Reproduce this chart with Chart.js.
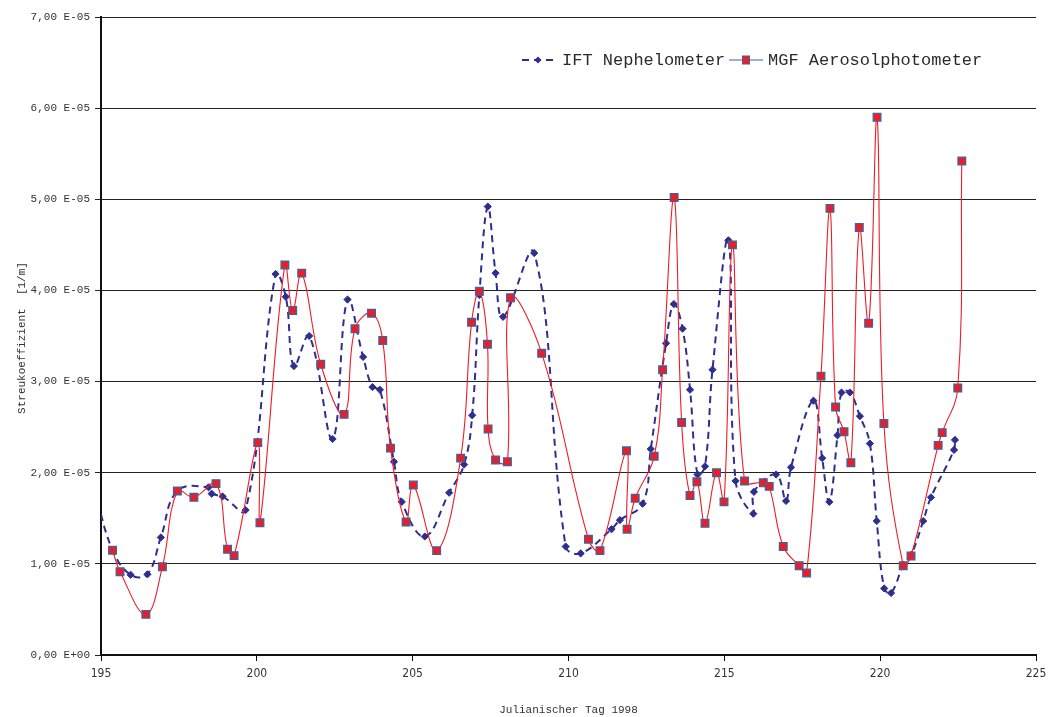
<!DOCTYPE html>
<html>
<head>
<meta charset="utf-8">
<script src="https://cdn.jsdelivr.net/npm/chart.js@4.4.1/dist/chart.umd.min.js"></script>
<style>
  html, body { margin: 0; padding: 0; background: #fff; }
  #wrap { width: 1050px; height: 717px; }
</style>
</head>
<body>
<div id="wrap"><canvas id="c" width="1050" height="717"></canvas></div>
<script>
// Julian day 1998 and scattering coefficient (in units of 1E-05 1/m)
const nephelometerDays = [194.8, 195.37, 195.95, 196.49, 196.92, 197.45, 198.45, 198.55, 198.9, 199.64,
  200.6, 200.93, 201.19, 201.68, 202.43, 202.91, 203.41, 203.71, 203.95, 204.4, 204.65,
  205.39, 206.17, 206.65, 206.91, 207.14, 207.41, 207.66, 207.9, 208.9, 209.91,
  210.39, 211.38, 211.65, 212.38, 212.64, 213.13, 213.38, 213.66, 213.9, 214.14,
  214.38, 214.62, 215.13, 215.36, 215.93, 215.95, 216.66, 216.98, 217.14, 217.86,
  218.14, 218.37, 218.63, 218.76, 219.03, 219.35, 219.67, 219.89, 220.13, 220.35,
  220.75, 221.0, 221.38, 221.63, 222.37, 222.4];
const nephelometerE5 = [1.8, 1.15, 0.88, 0.885, 1.29, 1.8, 1.84, 1.77, 1.74, 1.59,
  4.18, 3.93, 3.17, 3.5, 2.37, 3.9, 3.27, 2.94, 2.91, 2.12, 1.68,
  1.3, 1.78, 2.09, 2.63, 3.95, 4.92, 4.19, 3.71, 4.41, 1.19,
  1.115, 1.38, 1.48, 1.66, 2.26, 3.42, 3.85, 3.58, 2.91, 1.98,
  2.07, 3.13, 4.55, 1.91, 1.55, 1.79, 1.98, 1.69, 2.06, 2.79,
  2.16, 1.68, 2.41, 2.88, 2.88, 2.62, 2.32, 1.47, 0.73, 0.68,
  0.99, 1.1, 1.47, 1.73, 2.25, 2.36];

const photometerDays = [195.37, 195.61, 196.44, 196.97, 197.45, 197.98, 198.69, 199.06, 199.27,
  200.03, 200.1, 200.9, 201.15, 201.44, 202.05, 202.8, 203.15, 203.68, 204.04, 204.29,
  204.79, 205.02, 205.77, 206.54, 206.89, 207.14, 207.4, 207.42, 207.66, 208.04,
  208.14, 209.14, 210.64, 211.01, 211.86, 211.88, 212.14, 212.75, 213.02, 213.39,
  213.63, 213.9, 214.12, 214.38, 214.75, 214.99, 215.26, 215.65, 216.25, 216.44,
  216.89, 217.4, 217.64, 218.1, 218.39, 218.57, 218.84, 219.06, 219.33, 219.63,
  219.9, 220.12, 220.74, 220.99, 221.86, 221.99, 222.49, 222.62];
const photometerE5 = [1.15, 0.914, 0.446, 0.969, 1.8, 1.73, 1.88, 1.16, 1.09,
  2.33, 1.45, 4.28, 3.78, 4.19, 3.19, 2.64, 3.58, 3.75, 3.45, 2.27,
  1.46, 1.865, 1.145, 2.16, 3.65, 3.99, 3.41, 2.48, 2.14, 2.12,
  3.92, 3.31, 1.27, 1.145, 2.24, 1.38, 1.72, 2.18, 3.13, 5.02,
  2.55, 1.75, 1.9, 1.445, 2.0, 1.68, 4.5, 1.91, 1.89, 1.85,
  1.19, 0.98, 0.9, 3.06, 4.9, 2.72, 2.45, 2.11, 4.69, 3.64,
  5.9, 2.54, 0.98, 1.086, 2.3, 2.44, 2.93, 5.42];

const seriesNames = ['IFT Nephelometer', 'MGF Aerosolphotometer'];
const yTickLabels = ['0,00 E+00', '1,00 E-05', '2,00 E-05', '3,00 E-05', '4,00 E-05',
  '5,00 E-05', '6,00 E-05', '7,00 E-05'];
const xTitle = 'Julianischer Tag 1998';
const yTitle = 'Streukoeffizient  [1/m]';

const toPoints = (xs, ys) => xs.map((x, i) => ({ x: x, y: ys[i] }));

const BLUE = '#2e2e8f';
const RED = '#ee1c25';
const SQUARE_EDGE = '#44619c';
const MONO = '"Liberation Mono", "DejaVu Sans Mono", monospace';

// legend drawn inside the plot area, top right, plus the rotated y-axis title
const innerLegend = {
  id: 'innerLegend',
  afterDraw(chart) {
    const ctx = chart.ctx;
    const y = 60;
    ctx.save();
    ctx.font = '17px ' + MONO;
    ctx.textBaseline = 'middle';
    // nephelometer sample
    ctx.strokeStyle = BLUE;
    ctx.lineWidth = 2;
    ctx.setLineDash([7, 5]);
    ctx.beginPath(); ctx.moveTo(522, y); ctx.lineTo(555, y); ctx.stroke();
    ctx.setLineDash([]);
    ctx.fillStyle = BLUE;
    ctx.beginPath();
    ctx.moveTo(538, y - 3.5); ctx.lineTo(541.5, y); ctx.lineTo(538, y + 3.5); ctx.lineTo(534.5, y);
    ctx.closePath(); ctx.fill();
    ctx.fillStyle = '#2a2a2a';
    ctx.fillText(seriesNames[0], 562, y);
    // photometer sample
    ctx.strokeStyle = '#3b5ea8';
    ctx.lineWidth = 1;
    ctx.beginPath(); ctx.moveTo(729, y); ctx.lineTo(763, y); ctx.stroke();
    ctx.fillStyle = RED;
    ctx.strokeStyle = SQUARE_EDGE;
    ctx.fillRect(742.5, y - 4, 7, 8);
    ctx.strokeRect(742.5, y - 4, 7, 8);
    ctx.fillStyle = '#2a2a2a';
    ctx.fillText(seriesNames[1], 768, y);
    // rotated y-axis title
    ctx.font = '11px ' + MONO;
    ctx.fillStyle = '#333';
    ctx.translate(22, 338);
    ctx.rotate(-Math.PI / 2);
    ctx.textAlign = 'center';
    ctx.fillText(yTitle, 0, 0);
    ctx.restore();
  }
};

new Chart(document.getElementById('c'), {
  type: 'scatter',
  data: {
    datasets: [
      {
        label: seriesNames[0],
        data: toPoints(nephelometerDays, nephelometerE5),
        showLine: true,
        tension: 0.4,
        borderColor: BLUE,
        borderWidth: 2,
        borderDash: [7, 5],
        pointStyle: 'rectRot',
        pointRadius: ctx => (ctx.raw && ctx.raw.x < 195 ? 0 : 3.6),
        pointBackgroundColor: BLUE,
        pointBorderColor: BLUE,
        pointBorderWidth: 1,
        order: 2
      },
      {
        label: seriesNames[1],
        data: toPoints(photometerDays, photometerE5),
        showLine: true,
        tension: 0.4,
        borderColor: RED,
        borderWidth: 1.1,
        pointStyle: 'rect',
        pointRadius: 5.4,
        pointBackgroundColor: RED,
        pointBorderColor: SQUARE_EDGE,
        pointBorderWidth: 1.3,
        order: 1
      }
    ]
  },
  options: {
    responsive: false,
    animation: false,
    events: [],
    layout: { padding: { top: 17, right: 14, left: 0, bottom: 0 } },
    plugins: { legend: { display: false }, tooltip: { enabled: false } },
    scales: {
      x: {
        type: 'linear',
        min: 195,
        max: 225,
        afterFit(scale) { scale.height = 62; scale.paddingRight = 0; },
        ticks: {
          stepSize: 5,
          color: '#333',
          padding: 6,
          font: { family: '"Liberation Sans Narrow", "DejaVu Sans Condensed", "Liberation Sans", sans-serif', size: 12 }
        },
        grid: { drawOnChartArea: false, drawTicks: true, tickLength: 6, color: '#000', lineWidth: 1 },
        border: { display: true, color: '#111', width: 2 },
        title: {
          display: true,
          text: xTitle,
          color: '#333',
          padding: { top: 4, bottom: 0 },
          font: { family: MONO, size: 11 }
        }
      },
      y: {
        type: 'linear',
        min: 0,
        max: 7,
        afterFit(scale) { scale.width = 101; },
        ticks: {
          stepSize: 1,
          color: '#333',
          padding: 5,
          font: { family: MONO, size: 11 },
          callback: (v, i) => yTickLabels[i]
        },
        grid: { color: '#222', lineWidth: 1, drawTicks: true, tickLength: 6 },
        border: { display: true, color: '#111', width: 2 }
      }
    }
  },
  plugins: [innerLegend]
});
</script>
</body>
</html>
